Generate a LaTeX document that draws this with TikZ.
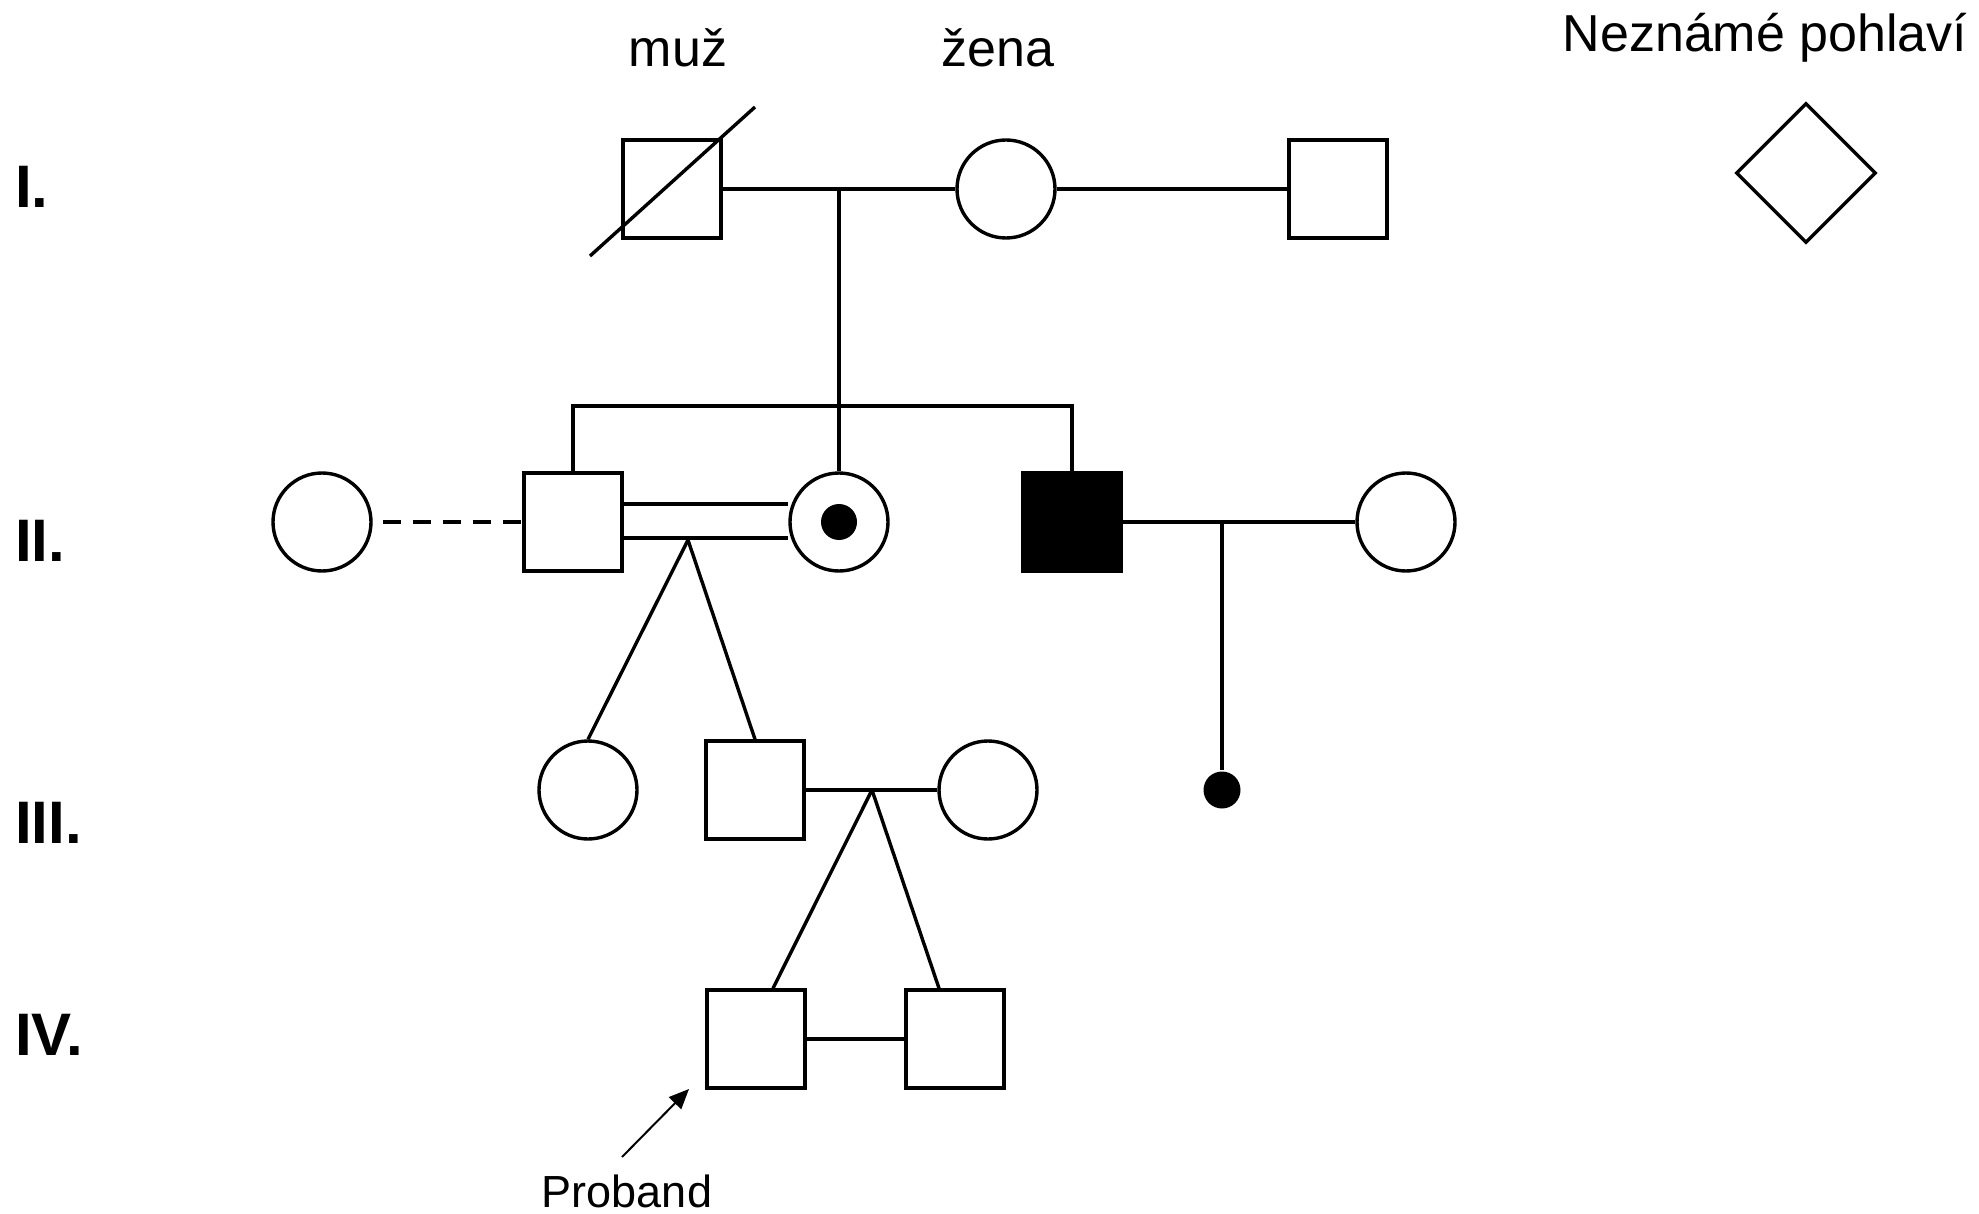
\documentclass[tikz,border=0pt]{standalone}
\usepackage{fontspec}
\setmainfont{Liberation Sans}
\usetikzlibrary{shapes.geometric,arrows.meta}
\begin{document}
\begin{tikzpicture}[x=1pt,y=-1pt,
  line width=3.4pt,
  male/.style={draw,rectangle,minimum size=98pt,inner sep=0pt},
  female/.style={draw,circle,minimum size=98pt,inner sep=0pt},
  affected/.style={fill=black},
  unknown/.style={draw,diamond,aspect=1,minimum width=140pt,minimum height=140pt,inner sep=0pt},
  dotmark/.style={circle,fill=black,inner sep=0pt,minimum size=#1},
  gen/.style={anchor=base west,font=\fontsize{60}{70}\bfseries\selectfont},
  legend/.style={anchor=base,font=\fontsize{52}{60}\selectfont},
]
\useasboundingbox (0,0) rectangle (1979,1214);

% generation numbers
\node[gen] (gI)   at (10,208)  {I.};
\node[gen] (gII)  at (10,561)  {II.};
\node[gen] (gIII) at (10,843)  {III.};
\node[gen] (gIV)  at (10,1055) {IV.};

% legend texts
\node[legend] (tmale)    at (678,67)  {muž};
\node[legend] (tfemale)  at (998,67)  {žena};
\node[legend] (tunknown) at (1765,52) {Neznámé pohlaví};
\node[unknown] (U) at (1806,173) {};

% generation I
\node[male]   (I1) at (672,189)  {};
\node[female] (I2) at (1006,189) {};
\node[male]   (I3) at (1338,189) {};
\coordinate (d1) at (590,256);
\coordinate (d2) at (755,107);
\draw (d1) -- (d2);
\draw (I1.east) -- (I2.west);
\draw (I2.east) -- (I3.west);
\coordinate (m1) at (839,189);

% generation II
\node[female] (II1) at (322,522)  {};
\node[male]   (II2) at (573,522)  {};
\node[female] (II3) at (839,522)  {};
\node[dotmark=36pt] (II3c) at (839,522) {};
\node[male,affected] (II4) at (1072,522) {};
\node[female] (II5) at (1406,522) {};

% sibship of generation II
\coordinate (s1) at (573,406);
\coordinate (s2) at (1072,406);
\draw (m1) -- (II3.north);
\draw (II2.north) -- (s1) -- (s2) -- (II4.north);

% partnerships in generation II
\draw[dash pattern=on 18pt off 12pt] ([xshift=10pt]II1.east) -- (II2.west);
\draw ([yshift=-16pt]II2.east) -- ([yshift=-16pt]II3.west -| II3.west);
\draw ([yshift=18pt]II2.east) -- ([yshift=18pt]II3.west);
\coordinate (c1) at (688,540);
\coordinate (m2) at (1222,522);
\draw (II4.east) -- (II5.west);

% generation III
\node[female] (III1) at (588,790) {};
\node[male]   (III2) at (755,790) {};
\node[female] (III3) at (988,790) {};
\node[dotmark=37pt] (III4) at (1222,790) {};
\draw (c1) -- (III1.north);
\draw (c1) -- (III2.north);
\draw (m2) -- (III4.north);
\draw (III2.east) -- (III3.west);
\coordinate (m3) at (872,790);

% generation IV
\node[male] (IV1) at (756,1039) {};
\node[male] (IV2) at (955,1039) {};
\draw (m3) -- ([xshift=17pt]IV1.north);
\draw (m3) -- ([xshift=-16pt]IV2.north);
\draw (IV1.east) -- (IV2.west);

% proband marker
\node[anchor=base,font=\fontsize{45}{54}\selectfont] (proband) at (627,1207) {Proband};
\coordinate (p1) at (622,1157);
\coordinate (p2) at (689,1089);
\draw[line width=2pt,-{Triangle[length=20pt,width=17pt]}] (p1) -- (p2);
\end{tikzpicture}
\end{document}
